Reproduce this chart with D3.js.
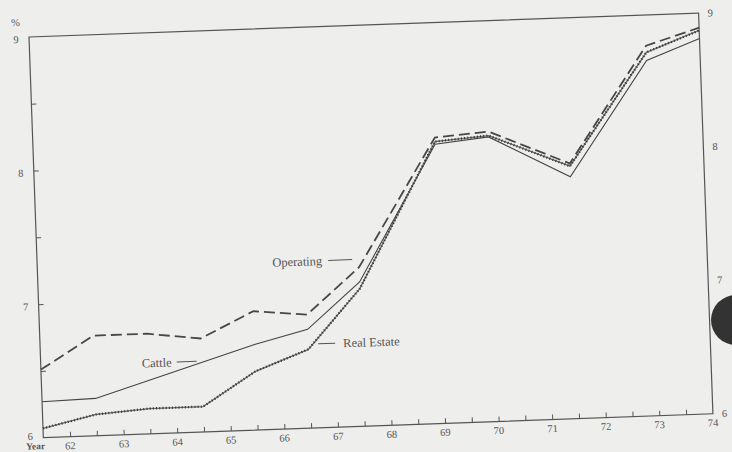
<!DOCTYPE html>
<html>
<head>
<meta charset="utf-8">
<script src="https://cdn.jsdelivr.net/npm/d3@7"></script>
<style>
  html, body { margin: 0; padding: 0; background: #eeeeec; }
  svg { display: block; }
  text { font-family: "Liberation Serif", "DejaVu Serif", serif; fill: #555; }
</style>
</head>
<body>
<svg id="chart" width="732" height="452"></svg>
<script>
// Interest rates by loan type, fiscal years 1962-1974 (percent)
const years      = [61.5, 62.5, 63.5, 64.5, 65.5, 66.5, 67.5, 69, 70, 71.5, 73, 74];
const operating  = [6.51, 6.75, 6.75, 6.70, 6.89, 6.85, 7.19, 8.14, 8.17, 7.91, 8.77, 8.89];
const cattle     = [6.27, 6.28, 6.40, 6.52, 6.64, 6.74, 7.08, 8.09, 8.13, 7.81, 8.66, 8.81];
const realEstate = [6.07, 6.16, 6.19, 6.19, 6.44, 6.59, 7.03, 8.11, 8.14, 7.89, 8.72, 8.87];

const yearTicks  = [62, 63, 64, 65, 66, 67, 68, 69, 70, 71, 72, 73, 74];
const halfTicks  = [62, 62.5, 63, 63.5, 64, 64.5, 65, 65.5, 66, 66.5, 67, 67.5, 68, 68.5,
                    69, 69.5, 70, 70.5, 71, 71.5, 72, 72.5, 73, 73.5];
const rateLabels = [9, 8, 7, 6];
const rateTicks  = [6.5, 7, 7.5, 8, 8.5];

const W = 670, H = 401;
const svg = d3.select("#chart");

// the printed sheet sits slightly askew
const g = svg.append("g").attr("transform", "translate(29,37) rotate(-2.05)");

const x = d3.scaleLinear().domain([61.5, 74]).range([0, W]);
const y = d3.scaleLinear().domain([6, 9]).range([H, 0]);

// frame
g.append("rect").attr("x", 0).attr("y", 0).attr("width", W).attr("height", H)
  .attr("fill", "none").attr("stroke", "#555").attr("stroke-width", 1.2);

// inward ticks on the bottom and left edges
const bottomAxis = d3.axisTop(x).tickValues(halfTicks).tickSize(5).tickFormat("");
const ba = g.append("g").attr("transform", `translate(0,${H})`).call(bottomAxis);
const leftAxis = d3.axisRight(y).tickValues(rateTicks).tickSize(5).tickFormat("");
const la = g.append("g").call(leftAxis);
[ba, la].forEach(a => {
  a.select(".domain").remove();
  a.selectAll("line").attr("stroke", "#555").attr("stroke-width", 1);
});

// year labels
g.selectAll("text.yr").data(yearTicks).join("text")
  .attr("class", "yr")
  .attr("x", d => x(d)).attr("y", H + 12.5)
  .attr("text-anchor", "middle").attr("font-size", 10.5)
  .text(d => d);

// rate labels, right side
g.selectAll("text.rr").data(rateLabels).join("text")
  .attr("class", "rr")
  .attr("x", W + 9).attr("y", d => y(d)).attr("dy", "0.35em")
  .attr("font-size", 10.5)
  .text(d => d);

// rate labels, left side
g.selectAll("text.rl").data(rateLabels).join("text")
  .attr("class", "rl")
  .attr("x", -13).attr("y", d => y(d) + (d === 6 ? -2 : 2)).attr("dy", "0.35em")
  .attr("text-anchor", "middle").attr("font-size", 10.5)
  .text(d => d);

g.append("text").attr("x", -13).attr("y", y(9) - 15).attr("dy", "0.35em")
  .attr("text-anchor", "middle").attr("font-size", 10.5).text("%");
g.append("text").attr("x", -8).attr("y", H + 8).attr("dy", "0.35em")
  .attr("text-anchor", "middle").attr("font-size", 9.5).attr("font-weight", "bold")
  .text("Year");

// series lines
const line = vals => d3.line().x((d, i) => x(years[i])).y(d => y(d))(vals);

g.append("path").attr("d", line(cattle))
  .attr("fill", "none").attr("stroke", "#444").attr("stroke-width", 1.1);

g.append("path").attr("d", line(realEstate))
  .attr("fill", "none").attr("stroke", "#6a6a6a").attr("stroke-width", 1.3);
g.append("path").attr("d", line(realEstate))
  .attr("fill", "none").attr("stroke", "#333").attr("stroke-width", 2.4)
  .attr("stroke-dasharray", "1,2.2");

g.append("path").attr("d", line(operating))
  .attr("fill", "none").attr("stroke", "#474747").attr("stroke-width", 1.8)
  .attr("stroke-dasharray", "11,5");

// series labels with leader strokes
const labels = [
  { text: "Operating",   tx: 235, ty: 234, lx1: 291, lx2: 315 },
  { text: "Cattle",      tx: 101, ty: 330, lx1: 136, lx2: 156 },
  { text: "Real Estate", tx: 303, ty: 317, lx1: 278, lx2: 295 }
];
labels.forEach(l => {
  g.append("text").attr("x", l.tx).attr("y", l.ty).attr("dy", "0.35em")
    .attr("font-size", 12.5).text(l.text);
  g.append("line").attr("x1", l.lx1).attr("x2", l.lx2)
    .attr("y1", l.ty).attr("y2", l.ty)
    .attr("stroke", "#555").attr("stroke-width", 1);
});

// dark round mark at the right margin of the sheet
svg.append("circle").attr("cx", 736).attr("cy", 320).attr("r", 25).attr("fill", "#333");
</script>
</body>
</html>
